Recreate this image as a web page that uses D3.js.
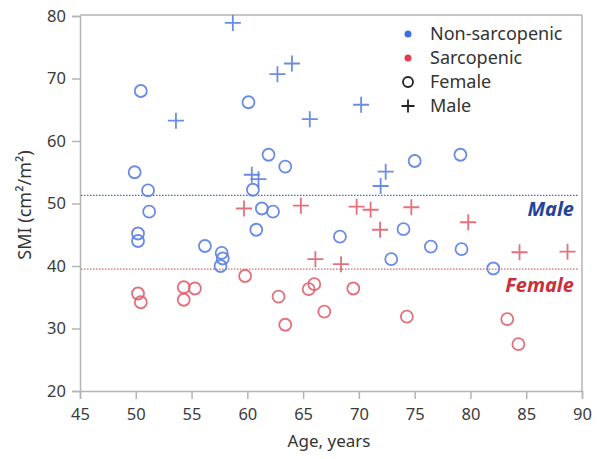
<!DOCTYPE html>
<html>
<head>
<meta charset="utf-8">
<script src="https://cdn.jsdelivr.net/npm/d3@7"></script>
<style>
  html, body { margin: 0; padding: 0; background: #fff; }
  svg text { font-family: "Noto Sans", "Open Sans", sans-serif; }
</style>
</head>
<body>
<svg id="chart" width="600" height="459"></svg>
<script>
// ---- data ----
const xTicks = [45, 50, 55, 60, 65, 70, 75, 80, 85, 90];
const yTicks = [20, 30, 40, 50, 60, 70, 80];

// Non-sarcopenic female (blue circles) [age, SMI]
const nonSarcFemale = [
  [50.45, 68.0], [60.1, 66.2], [49.9, 55.0], [51.1, 52.1], [60.5, 52.2],
  [61.9, 57.8], [63.4, 55.9], [75.0, 56.8], [79.1, 57.8], [51.2, 48.7],
  [50.2, 45.2], [50.2, 44.0], [56.2, 43.2], [57.7, 42.1], [57.8, 41.2],
  [57.6, 40.0], [61.3, 49.2], [62.3, 48.7], [60.8, 45.8], [68.3, 44.7],
  [74.0, 45.9], [72.9, 41.1], [76.45, 43.1], [79.2, 42.7], [82.05, 39.6]
];
// Non-sarcopenic male (blue plus)
const nonSarcMale = [
  [58.7, 78.9], [53.6, 63.25], [60.4, 54.6], [61.0, 53.9], [62.7, 70.7],
  [64.0, 72.4], [65.6, 63.5], [70.2, 65.8], [72.4, 55.1], [71.95, 52.8]
];
// Sarcopenic female (red circles)
const sarcFemale = [
  [50.2, 35.6], [50.45, 34.2], [54.3, 36.6], [55.3, 36.4], [54.3, 34.6],
  [59.8, 38.4], [62.8, 35.1], [63.4, 30.6], [65.5, 36.3], [66.0, 37.1],
  [66.9, 32.7], [69.5, 36.4], [74.3, 31.9], [83.3, 31.5], [84.3, 27.5]
];
// Sarcopenic male (red plus)
const sarcMale = [
  [59.7, 49.2], [64.8, 49.65], [69.8, 49.5], [71.05, 49.0], [74.7, 49.4],
  [71.9, 45.8], [66.1, 41.1], [68.4, 40.3], [79.8, 47.0], [84.4, 42.2], [88.7, 42.3]
];
// cut-off reference lines
const cutoffs = [
  { label: "Male", value: 51.3, color: "#4a68c8", text: "#23449a" },
  { label: "Female", value: 39.5, color: "#d8606a", text: "#c8303a" }
];
const legendItems = [
  { label: "Non-sarcopenic", kind: "dot", color: "#3d6ee6" },
  { label: "Sarcopenic", kind: "dot", color: "#e23c52" },
  { label: "Female", kind: "circle", color: "#222" },
  { label: "Male", kind: "plus", color: "#222" }
];

// ---- layout ----
const svg = d3.select("#chart");
const mLeft = 80, mRight = 582, mTop = 16, mBottom = 391;
const x = d3.scaleLinear().domain([45, 90]).range([mLeft, mRight]);
const y = d3.scaleLinear().domain([20, 80]).range([mBottom, mTop]);

const blue = "#5b80e2", red = "#e0606e";
const axisColor = "#b4b4b4";

// frame (top and right)
svg.append("line").attr("x1", mLeft).attr("x2", mRight).attr("y1", mTop - 1).attr("y2", mTop - 1)
  .attr("stroke", axisColor).attr("stroke-width", 1.5);
svg.append("line").attr("x1", mRight).attr("x2", mRight).attr("y1", mTop - 1).attr("y2", mBottom)
  .attr("stroke", axisColor).attr("stroke-width", 1.5);

// axes
const xAxis = svg.append("g").attr("transform", `translate(0,${mBottom})`)
  .call(d3.axisBottom(x).tickValues(xTicks).tickSize(8).tickPadding(9));
const yAxis = svg.append("g").attr("transform", `translate(${mLeft},0)`)
  .call(d3.axisLeft(y).tickValues(yTicks).tickSize(8).tickPadding(6));
[xAxis, yAxis].forEach(g => {
  g.select(".domain").attr("stroke", axisColor).attr("stroke-width", 1.5);
  g.selectAll(".tick line").attr("stroke", axisColor).attr("stroke-width", 1.5);
  g.selectAll(".tick text").attr("fill", "#3a3a3a").style("font-size", "16.5px");
});

// axis titles
svg.append("text").attr("x", 329).attr("y", 447).attr("text-anchor", "middle")
  .attr("fill", "#333").style("font-size", "17px").text("Age, years");
svg.append("text").attr("transform", "translate(31,205) rotate(-90)").attr("text-anchor", "middle")
  .attr("fill", "#333").style("font-size", "18px").text("SMI (cm²/m²)");

// cut-off lines
cutoffs.forEach(c => {
  svg.append("line").attr("x1", mLeft + 1).attr("x2", mRight - 4)
    .attr("y1", y(c.value)).attr("y2", y(c.value))
    .attr("stroke", c.color).attr("stroke-width", 1.2).attr("stroke-dasharray", "1.5,1.5");
});
svg.append("text").attr("x", 574).attr("y", 216).attr("text-anchor", "end")
  .attr("fill", cutoffs[0].text).style("font-size", "20px").style("font-weight", "bold").style("font-style", "italic")
  .text(cutoffs[0].label);
svg.append("text").attr("x", 574).attr("y", 292).attr("text-anchor", "end")
  .attr("fill", cutoffs[1].text).style("font-size", "20px").style("font-weight", "bold").style("font-style", "italic")
  .text(cutoffs[1].label);

// markers
const plusPath = s => `M${-s},0H${s}M0,${-s}V${s}`;
function circles(data, color) {
  svg.append("g").selectAll("circle").data(data).join("circle")
    .attr("cx", d => x(d[0])).attr("cy", d => y(d[1])).attr("r", 6)
    .attr("fill", "none").attr("stroke", color).attr("stroke-width", 1.8).attr("stroke-opacity", 0.9);
}
function pluses(data, color) {
  svg.append("g").selectAll("path").data(data).join("path")
    .attr("transform", d => `translate(${x(d[0])},${y(d[1])})`)
    .attr("d", plusPath(8))
    .attr("fill", "none").attr("stroke", color).attr("stroke-width", 1.8).attr("stroke-opacity", 0.9);
}
circles(nonSarcFemale, blue);
pluses(nonSarcMale, blue);
circles(sarcFemale, red);
pluses(sarcMale, red);

// legend
const lg = svg.append("g");
legendItems.forEach((it, i) => {
  const cy = 34 + i * 24, cx = 408;
  if (it.kind === "dot") lg.append("circle").attr("cx", cx).attr("cy", cy).attr("r", 3.5).attr("fill", it.color);
  else if (it.kind === "circle") lg.append("circle").attr("cx", cx).attr("cy", cy).attr("r", 5)
    .attr("fill", "none").attr("stroke", it.color).attr("stroke-width", 1.8);
  else lg.append("path").attr("transform", `translate(${cx},${cy})`).attr("d", plusPath(6.5))
    .attr("stroke", it.color).attr("stroke-width", 1.8);
  lg.append("text").attr("x", 430).attr("y", cy).attr("dy", "0.35em")
    .attr("fill", "#333").style("font-size", "18px").text(it.label);
});
</script>
</body>
</html>
